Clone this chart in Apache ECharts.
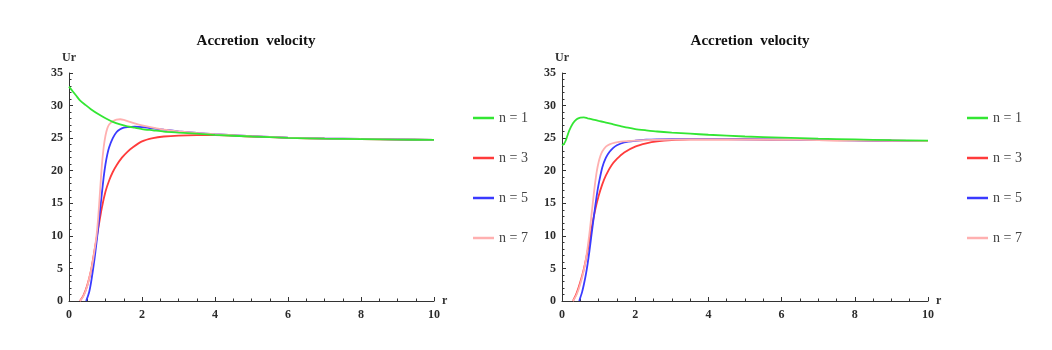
<!DOCTYPE html>
<html>
<head>
<meta charset="utf-8">
<title>Accretion velocity</title>
<script src="https://cdn.jsdelivr.net/npm/echarts@6/dist/echarts.min.js"></script>
<style>
    html, body {margin: 0; padding: 0; background: #fff;}
    #main {width: 1052px; height: 350px;}
</style>
</head>
<body>
<div id="main"></div>
<script>
// 图例名称
var seriesNames = ['n = 1', 'n = 3', 'n = 5', 'n = 7'];
var xTicks = [0, 2, 4, 6, 8, 10];
var yTicks = [0, 5, 10, 15, 20, 25, 30, 35];

// 左图
var leftN1R = [0, 0.1, 0.2, 0.3, 0.45, 0.6, 0.8, 1.0, 1.2, 1.4, 1.6, 1.8, 2.0, 2.3, 2.6, 3.0, 3.5, 4, 5, 6, 7, 8, 9, 10];
var leftN1U = [32.9, 32.2, 31.5, 30.8, 30.1, 29.45, 28.7, 28.05, 27.5, 27.1, 26.8, 26.6, 26.4, 26.2, 26.0, 25.85, 25.68, 25.5, 25.25, 25.05, 24.92, 24.85, 24.78, 24.72];

var leftN3R = [0.3, 0.4, 0.5, 0.6, 0.7, 0.8, 0.9, 1.0, 1.1, 1.2, 1.3, 1.45, 1.6, 1.75, 2.0, 2.3, 2.6, 3.0, 3.5, 4, 5, 6, 7, 8, 9, 10];
var leftN3U = [0, 0.9, 2.4, 4.6, 7.8, 11.1, 14.3, 16.8, 18.5, 19.8, 20.8, 22.0, 22.9, 23.6, 24.5, 25.0, 25.25, 25.4, 25.45, 25.45, 25.25, 25.05, 24.92, 24.85, 24.78, 24.72];

var leftN5R = [0.47, 0.55, 0.6, 0.65, 0.7, 0.75, 0.8, 0.85, 0.9, 0.95, 1.0, 1.05, 1.1, 1.2, 1.3, 1.4, 1.5, 1.6, 1.8, 2.0, 2.3, 2.6, 3.0, 3.5, 4, 5, 6, 7, 8, 9, 10];
var leftN5U = [0, 1.3, 2.7, 4.5, 6.5, 8.8, 11.3, 13.9, 16.5, 19.0, 21.0, 22.5, 23.6, 25.0, 25.9, 26.35, 26.6, 26.7, 26.75, 26.7, 26.5, 26.3, 26.05, 25.8, 25.6, 25.3, 25.08, 24.95, 24.87, 24.8, 24.74];

var leftN7R = [0.3, 0.4, 0.5, 0.6, 0.65, 0.7, 0.75, 0.8, 0.85, 0.9, 0.95, 1.0, 1.05, 1.1, 1.2, 1.3, 1.4, 1.5, 1.6, 1.8, 2.0, 2.3, 2.6, 3.0, 3.5, 4, 5, 6, 7, 8, 9, 10];
var leftN7U = [0, 0.8, 2.3, 4.6, 6.0, 7.8, 9.8, 12.8, 16.8, 20.8, 23.6, 25.4, 26.5, 27.1, 27.6, 27.85, 27.9, 27.8, 27.6, 27.25, 26.95, 26.6, 26.3, 26.05, 25.8, 25.6, 25.3, 25.08, 24.95, 24.87, 24.8, 24.74];

// 右图
var rightN1R = [0, 0.05, 0.1, 0.15, 0.2, 0.3, 0.4, 0.5, 0.6, 0.7, 0.85, 1.0, 1.2, 1.4, 1.6, 1.8, 2.0, 2.3, 2.6, 3.0, 3.5, 4, 5, 6, 7, 8, 9, 10];
var rightN1U = [23.9, 24.1, 24.6, 25.4, 26.2, 27.3, 27.9, 28.15, 28.2, 28.05, 27.85, 27.65, 27.4, 27.1, 26.85, 26.6, 26.4, 26.2, 26.02, 25.85, 25.68, 25.52, 25.25, 25.08, 24.92, 24.8, 24.7, 24.62];

var rightN3R = [0.3, 0.4, 0.5, 0.6, 0.7, 0.8, 0.9, 1.0, 1.1, 1.2, 1.35, 1.5, 1.7, 2.0, 2.3, 2.6, 3.0, 3.5, 4, 5, 6, 7, 8, 9, 10];
var rightN3U = [0, 1.2, 2.9, 5.0, 7.7, 10.9, 13.8, 16.1, 17.9, 19.3, 20.8, 21.8, 22.8, 23.7, 24.2, 24.5, 24.7, 24.8, 24.82, 24.8, 24.75, 24.7, 24.65, 24.6, 24.55];

var rightN5R = [0.47, 0.55, 0.6, 0.65, 0.7, 0.75, 0.8, 0.85, 0.9, 0.95, 1.0, 1.1, 1.2, 1.3, 1.4, 1.5, 1.7, 2.0, 2.3, 2.6, 3.0, 4, 5, 6, 7, 8, 9, 10];
var rightN5U = [0, 1.4, 2.6, 4.0, 5.7, 7.7, 9.9, 12.1, 14.2, 16.2, 17.9, 20.5, 22.0, 22.9, 23.5, 23.9, 24.35, 24.6, 24.75, 24.82, 24.85, 24.85, 24.82, 24.77, 24.72, 24.66, 24.6, 24.55];

var rightN7R = [0.3, 0.4, 0.5, 0.6, 0.65, 0.7, 0.75, 0.8, 0.85, 0.9, 0.95, 1.0, 1.05, 1.1, 1.2, 1.3, 1.45, 1.6, 1.8, 2.0, 2.5, 3, 4, 5, 6, 7, 8, 9, 10];
var rightN7U = [0, 1.0, 2.6, 4.8, 6.3, 8.2, 10.4, 12.9, 15.5, 17.9, 19.9, 21.3, 22.3, 22.95, 23.7, 24.05, 24.3, 24.45, 24.55, 24.62, 24.72, 24.78, 24.8, 24.78, 24.74, 24.7, 24.65, 24.6, 24.55];

var colors = ['#33e633', '#ff3b3b', '#3a3aff', '#ffb0b0'];
var serif = '"Liberation Serif", "DejaVu Serif", serif';

function pairs(xs, ys) {
    return xs.map(function (x, i) {
        return [x, ys[i]];
    });
}

function makeX(idx) {
    return {
        type: 'value',
        gridIndex: idx,
        min: xTicks[0],
        max: xTicks[xTicks.length - 1],
        interval: 2,
        name: 'r',
        nameLocation: 'end',
        nameGap: 8,
        nameTextStyle: {fontFamily: serif, fontWeight: 'bold', fontSize: 12, color: '#333', verticalAlign: 'middle'},
        axisLine: {lineStyle: {color: '#333', width: 1}},
        axisTick: {inside: true, length: 4, lineStyle: {color: '#333'}},
        minorTick: {show: true, splitNumber: 4, length: 2.5, lineStyle: {color: '#333'}},
        splitLine: {show: false},
        axisLabel: {fontFamily: serif, fontWeight: 'bold', fontSize: 12, color: '#2b2b2b', margin: 8}
    };
}

function makeY(idx) {
    return {
        type: 'value',
        gridIndex: idx,
        min: yTicks[0],
        max: yTicks[yTicks.length - 1],
        interval: 5,
        name: 'Ur',
        nameLocation: 'end',
        nameGap: 9,
        nameTextStyle: {fontFamily: serif, fontWeight: 'bold', fontSize: 12, color: '#333'},
        axisLine: {show: true, lineStyle: {color: '#333', width: 1}},
        axisTick: {show: true, inside: true, length: 4, lineStyle: {color: '#333'}},
        minorTick: {show: true, splitNumber: 5, length: 2.5, lineStyle: {color: '#333'}},
        splitLine: {show: false},
        axisLabel: {fontFamily: serif, fontWeight: 'bold', fontSize: 12, color: '#2b2b2b', margin: 6}
    };
}

function makeLine(name, idx, xs, ys, color) {
    return {
        name: name,
        type: 'line',
        xAxisIndex: idx,
        yAxisIndex: idx,
        data: pairs(xs, ys),
        symbol: 'none',
        smooth: 0.25,
        lineStyle: {color: color, width: 1.8},
        itemStyle: {color: color},
        z: name === 'n = 1' ? 5 : 3
    };
}

function makeLegend(left) {
    return {
        data: seriesNames,
        orient: 'vertical',
        icon: 'rect',
        left: left,
        top: 105,
        itemWidth: 21,
        itemHeight: 2.5,
        itemGap: 24,
        textStyle: {fontFamily: serif, fontSize: 14, color: '#444', lineHeight: 16}
    };
}

function makeTitle(center) {
    return {
        text: 'Accretion  velocity',
        left: center,
        top: 29,
        textAlign: 'center',
        textStyle: {fontFamily: serif, fontWeight: 'bold', fontSize: 15, color: '#111'}
    };
}

var chart = echarts.init(document.getElementById('main'));
chart.setOption({
    animation: false,
    backgroundColor: '#fff',
    title: [makeTitle(251), makeTitle(745)],
    legend: [makeLegend(468), makeLegend(962)],
    grid: [
        {left: 69, top: 73, width: 365, height: 228},
        {left: 562, top: 73, width: 366, height: 228}
    ],
    xAxis: [makeX(0), makeX(1)],
    yAxis: [makeY(0), makeY(1)],
    series: [
        makeLine(seriesNames[1], 0, leftN3R, leftN3U, colors[1]),
        makeLine(seriesNames[2], 0, leftN5R, leftN5U, colors[2]),
        makeLine(seriesNames[3], 0, leftN7R, leftN7U, colors[3]),
        makeLine(seriesNames[0], 0, leftN1R, leftN1U, colors[0]),
        makeLine(seriesNames[1], 1, rightN3R, rightN3U, colors[1]),
        makeLine(seriesNames[2], 1, rightN5R, rightN5U, colors[2]),
        makeLine(seriesNames[3], 1, rightN7R, rightN7U, colors[3]),
        makeLine(seriesNames[0], 1, rightN1R, rightN1U, colors[0])
    ]
});
</script>
</body>
</html>
